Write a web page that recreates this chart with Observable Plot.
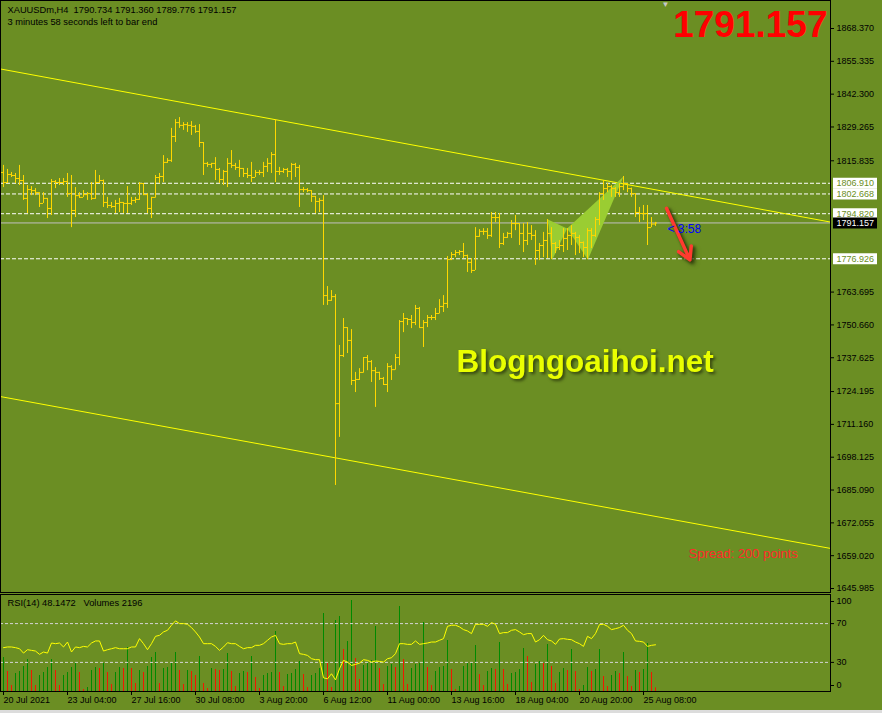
<!DOCTYPE html>
<html><head><meta charset="utf-8">
<script src="https://cdn.jsdelivr.net/npm/d3@7"></script>
<script src="https://cdn.jsdelivr.net/npm/@observablehq/plot@0.6"></script>
<style>
html,body{margin:0;padding:0;background:#6b8e23;}
#wrap{position:relative;width:882px;height:713px;background:#6b8e23;overflow:hidden;}
#wrap svg{position:absolute;left:0;overflow:visible;}
#strip{position:absolute;left:0;top:710px;width:882px;height:3px;background:#dcdcdc;}
</style></head><body><div id="wrap"><div id="strip"></div></div>
<script>
// ---- OHLC (H4 bars, index 0 = 20 Jul 2021 12:00) ----
const open = [
1811.2,1807.2,1810.4,1810.0,1808.8,1808.0,1800.9,1804.4,1804.0,1803.2,
1798.9,1800.9,1796.9,1807.6,1807.2,1807.2,1807.6,1802.8,1796.1,1802.0,
1801.3,1802.4,1802.8,1800.9,1807.2,1808.0,1799.3,1798.1,1797.7,1798.9,
1799.3,1798.9,1798.9,1800.1,1800.5,1806.8,1802.4,1796.9,1801.3,1809.2,
1809.6,1815.2,1816.0,1825.5,1831.0,1829.9,1830.2,1829.9,1829.5,1827.5,
1823.1,1814.8,1814.4,1814.8,1812.4,1808.4,1811.6,1814.8,1814.0,1813.2,
1812.8,1810.8,1810.0,1809.2,1811.2,1811.2,1813.6,1814.8,1818.3,1811.6,
1811.6,1812.4,1811.6,1814.4,1813.2,1804.4,1804.4,1804.0,1801.7,1799.7,
1800.1,1762.3,1760.4,1761.9,1719.4,1738.5,1749.6,1744.5,1728.6,1729.0,
1731.8,1737.7,1736.1,1732.5,1731.8,1729.4,1727.0,1734.1,1732.9,1737.7,
1752.0,1753.2,1752.8,1751.6,1757.2,1749.6,1751.6,1753.6,1753.6,1755.2,
1758.0,1759.2,1776.6,1778.6,1779.4,1779.8,1778.2,1775.5,1772.3,1785.8,
1787.8,1787.8,1786.2,1793.3,1793.3,1783.0,1785.4,1787.0,1790.9,1790.9,
1787.0,1784.2,1787.0,1786.2,1780.2,1782.2,1784.2,1787.0,1783.0,1781.4,
1782.2,1785.0,1786.2,1787.0,1785.4,1783.4,1781.4,1788.1,1786.2,1792.5,
1802.8,1804.8,1805.6,1804.8,1803.2,1805.6,1806.8,1804.8,1802.8,1795.3,
1794.9,1794.9,1789.3,1790.734];
const high = [
1814.0,1812.4,1811.2,1810.8,1814.0,1810.0,1806.0,1805.6,1804.8,1803.2,
1803.2,1800.9,1808.4,1808.0,1808.8,1808.8,1810.8,1810.0,1805.2,1803.2,
1804.0,1803.2,1807.2,1812.0,1810.0,1808.2,1801.3,1799.3,1800.1,1800.9,
1799.3,1805.6,1801.3,1801.3,1807.2,1806.8,1802.8,1801.3,1810.0,1810.8,
1817.9,1816.7,1828.7,1832.2,1833.0,1831.0,1831.0,1831.4,1829.9,1830.2,
1823.1,1815.2,1814.8,1817.1,1812.8,1812.0,1816.7,1819.9,1814.8,1816.0,
1812.8,1812.8,1815.2,1812.0,1812.0,1815.2,1816.7,1819.1,1832.2,1813.2,
1812.8,1812.8,1814.8,1814.8,1814.0,1805.2,1804.8,1804.0,1801.7,1800.9,
1802.0,1765.9,1764.3,1762.7,1742.5,1753.2,1749.6,1748.8,1731.8,1733.3,
1737.7,1738.5,1736.5,1733.7,1731.9,1729.8,1735.3,1734.5,1738.9,1752.4,
1755.2,1753.2,1754.4,1758.4,1757.6,1752.4,1754.4,1754.4,1757.2,1760.7,
1762.3,1777.8,1779.4,1780.2,1780.2,1783.0,1778.4,1777.0,1789.3,1788.5,
1788.9,1788.9,1795.3,1795.3,1794.9,1787.0,1787.4,1792.1,1794.1,1790.9,
1790.9,1791.3,1790.1,1788.1,1783.0,1787.4,1792.5,1789.3,1783.4,1784.2,
1788.9,1788.9,1790.1,1787.4,1786.2,1783.6,1788.9,1788.9,1793.3,1803.2,
1808.0,1806.8,1806.0,1805.2,1806.8,1809.6,1806.8,1805.0,1802.8,1797.3,
1798.1,1798.1,1793.3,1791.36];
const low = [
1805.2,1806.8,1809.2,1806.8,1806.0,1800.1,1794.9,1802.0,1802.0,1797.3,
1798.9,1792.9,1794.1,1804.8,1806.0,1806.0,1801.3,1789.3,1793.3,1800.9,
1801.3,1800.1,1800.1,1800.5,1806.8,1797.3,1796.9,1796.9,1794.9,1795.3,
1794.9,1794.9,1798.1,1798.9,1800.1,1802.0,1794.9,1792.9,1801.0,1806.8,
1807.2,1814.8,1815.2,1823.1,1828.7,1827.9,1827.1,1825.9,1826.7,1821.1,
1810.0,1813.2,1812.8,1808.0,1806.8,1806.0,1805.2,1812.8,1812.0,1809.2,
1809.2,1808.8,1807.2,1809.2,1810.0,1809.2,1811.2,1810.8,1807.2,1810.0,
1810.8,1809.2,1808.0,1809.2,1797.3,1803.2,1803.2,1799.3,1794.9,1795.3,
1758.4,1758.4,1760.0,1686.9,1706.0,1737.7,1739.3,1726.6,1723.8,1728.6,
1731.5,1732.5,1727.8,1717.9,1728.6,1726.6,1723.8,1728.6,1732.7,1734.5,
1747.6,1750.4,1749.2,1750.4,1749.6,1741.7,1749.6,1752.4,1752.4,1755.0,
1755.6,1757.2,1776.2,1777.4,1778.2,1777.0,1771.5,1771.1,1772.3,1785.4,
1786.2,1784.6,1785.4,1791.3,1781.0,1782.2,1785.0,1785.0,1788.1,1782.2,
1779.4,1782.2,1784.2,1774.3,1776.2,1777.4,1777.0,1776.6,1779.0,1780.2,
1779.4,1780.2,1782.2,1778.2,1779.0,1777.4,1776.6,1781.0,1785.4,1790.1,
1800.1,1803.2,1801.3,1801.3,1801.3,1804.0,1803.2,1801.3,1793.3,1791.3,
1792.1,1782.2,1789.3,1789.776];
const close = [
1807.2,1810.4,1810.0,1808.8,1808.0,1800.9,1804.4,1804.0,1803.2,1798.9,
1800.9,1796.9,1807.6,1807.2,1807.2,1807.6,1802.8,1796.1,1802.0,1801.3,
1802.4,1802.8,1800.9,1807.2,1808.0,1799.3,1798.1,1797.7,1798.9,1799.3,
1798.9,1798.9,1800.1,1800.5,1806.8,1802.4,1796.9,1801.3,1809.2,1809.6,
1815.2,1816.0,1825.5,1831.0,1829.9,1830.2,1829.9,1829.5,1827.5,1823.1,
1814.8,1814.4,1814.8,1812.4,1808.4,1811.6,1814.8,1814.0,1813.2,1812.8,
1810.8,1810.0,1809.2,1811.2,1811.2,1813.6,1814.8,1818.3,1811.6,1811.6,
1812.4,1811.6,1814.4,1813.2,1804.4,1804.4,1804.0,1801.7,1799.7,1800.1,
1762.3,1760.4,1761.9,1719.4,1738.5,1749.6,1744.5,1728.6,1729.0,1731.8,
1737.7,1736.1,1732.5,1731.8,1729.4,1727.0,1734.1,1732.9,1737.7,1752.0,
1753.2,1752.8,1751.6,1757.2,1749.6,1751.6,1753.6,1753.6,1755.2,1758.0,
1759.2,1776.6,1778.6,1779.4,1779.8,1778.2,1775.5,1772.3,1785.8,1787.8,
1787.8,1786.2,1793.3,1793.3,1783.0,1785.4,1787.0,1790.9,1790.9,1787.0,
1784.2,1787.0,1786.2,1780.2,1782.2,1784.2,1787.0,1783.0,1781.4,1782.2,
1785.0,1786.2,1787.0,1785.4,1783.4,1781.4,1788.1,1786.2,1792.5,1802.8,
1804.8,1805.6,1804.8,1803.2,1805.6,1806.8,1804.8,1802.8,1795.3,1794.9,
1794.9,1789.3,1790.7,1791.157];

// ---- RSI(14) ----
const rsi = [
45.2,45.9,45.9,45.2,44.1,39.6,43.1,42.4,41.7,38.3,
40.7,39.6,50.0,49.3,50.0,45.9,51.0,40.7,45.9,45.2,
46.5,45.9,50.0,52.1,52.1,41.7,43.1,44.1,45.2,44.1,
44.1,44.1,45.9,45.9,54.5,49.3,43.1,49.3,56.9,57.9,
61.4,63.1,68.3,72.8,70.0,70.0,69.3,65.9,61.4,56.2,
49.3,49.3,49.3,46.5,42.4,45.9,50.3,49.3,49.3,46.5,
44.1,45.2,45.2,47.6,47.6,49.3,52.8,56.2,57.9,49.3,
48.6,49.3,49.3,51.0,39.0,38.3,37.2,33.8,32.8,32.8,
14.1,13.1,18.3,12.0,23.4,32.1,30.3,26.9,27.9,29.3,
32.8,32.1,30.3,31.4,31.0,30.3,33.8,34.8,39.0,49.3,
49.3,48.6,48.6,52.1,48.6,49.3,50.0,51.0,51.0,52.8,
54.5,67.2,68.3,68.3,66.6,63.8,62.4,59.7,69.3,69.3,
69.3,67.2,71.0,69.3,59.7,60.7,60.7,63.1,63.8,61.4,
58.6,59.7,59.7,51.0,53.4,57.9,53.4,52.1,48.6,54.1,
54.5,53.8,53.4,51.0,49.3,46.5,56.9,54.5,59.7,69.0,
69.3,67.2,63.8,64.8,65.9,68.3,63.1,59.7,52.1,51.7,
51.0,46.5,47.6,48.1472];

// ---- Tick volumes ----
const volume = [
20400,12000,3600,10800,12000,15000,19200,12600,3600,9600,
11400,14400,19200,12600,3600,9600,11400,14400,17400,11400,
1200,2400,12600,14400,13800,16800,11400,4200,11400,14400,
13800,26400,13800,4800,12600,11400,15000,20400,23400,4800,
13800,14400,16800,23400,12600,4200,12600,12000,9600,21000,
4800,1800,13800,13200,12600,13200,22800,12000,3000,10800,
12000,11400,21000,8400,1800,9600,10800,11400,36000,11400,
3000,10200,10800,13200,18000,10200,2400,9600,10800,13800,
46800,17400,2400,42600,45000,25200,30000,54600,19800,7200,
15600,17400,18600,39000,13800,4200,15000,16200,14400,51000,
19200,4200,13800,16200,16800,41400,14400,3600,12000,14400,
15000,30600,13200,1200,3000,15000,16800,17400,27600,10200,
3600,12000,13800,13200,29400,13200,4200,10800,11400,13200,
25800,21000,5400,16200,18000,16800,28200,15000,4800,11400,
13800,12600,25200,12000,1200,3600,14400,12000,13200,25200,
9000,3000,9600,12000,10800,23400,9000,3000,12600,11400,
13200,28800,11400,2196];

// ---- Axis ticks / labels ----
const priceTicks = [1868.370,1855.335,1842.300,1829.265,1815.835,1763.695,1750.660,1737.625,1724.195,1711.160,1698.125,1685.090,1672.055,1659.020,1645.985];
const dateTickBars = [0,16,32,48,64,80,96,112,128,144,160];
const dateLabels = ["20 Jul 2021","23 Jul 04:00","27 Jul 16:00","30 Jul 08:00","3 Aug 20:00","6 Aug 12:00","11 Aug 00:00","13 Aug 16:00","18 Aug 04:00","20 Aug 20:00","25 Aug 08:00"];

// ---- Drawn objects ----
const levelLines = [1806.910, 1802.668, 1794.820, 1776.926];
const bidPrice = 1791.157;
const trendLines = [
  {x1:-0.75, y1:1852.3, x2:206.75, y2:1791.5},
  {x1:-0.75, y1:1722.2, x2:206.75, y2:1661.9}
];
const patternXAB = [{i:136.1,p:1792.5},{i:137.2,p:1776.6},{i:140.9,p:1788.9}];
const patternBCD = [{i:140.9,p:1788.9},{i:146.1,p:1776.6},{i:155.0,p:1809.6}];
const arrowSeg = [{x1:165.75, y1:1797.0, x2:171.6, y2:1776.5}];
const timerLabel = {i:166, p:1788.5, text:"< 3:58"};
const headerLine1 = "XAUUSDm,H4\u00a0\u00a01790.734 1791.360 1789.776 1791.157";
const headerLine2 = "3 minutes 58 seconds left to bar end";
const watermark = "Blogngoaihoi.net";
const rsiPeriod = 14;
const spreadPoints = 200;

const bars = high.map((h, i) => ({i, open: open[i], high: h, low: low[i], close: close[i]}));
const rsiData = rsi.map((r, i) => ({i, r}));
const volData = volume.map((v, i) => ({i, v, col: (i === 0 || v > volume[i-1]) ? "#008a00" : "#f01800"}));

const FONT = "'Liberation Sans', Arial, sans-serif";
const xDom = [-0.75, 206.75];
const wrap = document.getElementById("wrap");
const BAR = "#ffd700";

const main = Plot.plot({
  width: 882, height: 593,
  marginLeft: 0, marginRight: 52, marginTop: 0, marginBottom: 1,
  x: {domain: xDom, axis: null},
  y: {domain: [1644.40, 1879.49], axis: null},
  style: {background: "transparent", fontFamily: FONT, fontSize: "9px", color: "black", overflow: "visible"},
  marks: [
    Plot.ruleY(levelLines, {y: d => d, stroke: "white", strokeDasharray: "4,2"}),
    Plot.ruleY([bidPrice], {y: d => d, stroke: "#c0c0c0"}),
    Plot.link(trendLines, {x1: "x1", y1: "y1", x2: "x2", y2: "y2", stroke: "#ffff00", strokeWidth: 1}),
    Plot.line(patternXAB, {x: "i", y: "p", fill: "#9acd32", stroke: "none"}),
    Plot.line(patternBCD, {x: "i", y: "p", fill: "#9acd32", stroke: "none"}),
    Plot.ruleX(bars, {x: "i", y1: "low", y2: "high", stroke: BAR}),
    Plot.ruleY(bars, {y: "open", x1: d => d.i - 0.5, x2: "i", stroke: BAR}),
    Plot.ruleY(bars, {y: "close", x1: "i", x2: d => d.i + 0.5, stroke: BAR}),
    Plot.arrow(arrowSeg, {x1: "x1", y1: "y1", x2: "x2", y2: "y2", stroke: "#ff3b2f", strokeWidth: 3.5, headLength: 6}),
    Plot.text([timerLabel], {x: "i", y: "p", text: "text", textAnchor: "start", fill: "#0000ff", fontSize: 12, fontFamily: FONT}),
    Plot.text([watermark], {text: d => d, frameAnchor: "top-left", dx: 456, dy: 361, textAnchor: "start", lineAnchor: "middle", fontSize: 31.5, fontWeight: "bold", fill: "#eaff00", fontFamily: FONT}),
    Plot.text([bidPrice], {text: d => d.toFixed(3), frameAnchor: "top-right", dx: -3, dy: 25, textAnchor: "end", lineAnchor: "middle", fontSize: 37, fontWeight: "bold", fill: "#ff0000", fontFamily: FONT}),
    Plot.text([spreadPoints], {text: d => `Spread: ${d} points`, frameAnchor: "top-left", dx: 688, dy: 553, textAnchor: "start", lineAnchor: "middle", fontSize: 13, fill: "#ff2a2a", fontFamily: FONT}),
    Plot.text([headerLine1], {text: d => d, frameAnchor: "top-left", dx: 7, dy: 10, textAnchor: "start", lineAnchor: "middle", fontSize: 9.3, fill: "black", fontFamily: FONT}),
    Plot.text([headerLine2], {text: d => d, frameAnchor: "top-left", dx: 7, dy: 22, textAnchor: "start", lineAnchor: "middle", fontSize: 9.3, fill: "black", fontFamily: FONT}),
    Plot.text(["\u25BC"], {text: d => d, frameAnchor: "top-left", dx: 661, dy: 4, lineAnchor: "middle", fontSize: 8, fill: "#c8c8c8"}),
    Plot.axisY(priceTicks, {anchor: "right", label: null, tickSize: 3, tickPadding: 3, tickFormat: d => d.toFixed(3), fontSize: 9}),
    Plot.ruleY(levelLines, {y: d => d, stroke: "white", strokeWidth: 11, insetLeft: 833, insetRight: -47}),
    Plot.ruleY([bidPrice], {y: d => d, stroke: "black", strokeWidth: 11, insetLeft: 833, insetRight: -47}),
    Plot.text(levelLines, {y: d => d, text: d => d.toFixed(3), frameAnchor: "right", textAnchor: "start", dx: 6, fill: "#6b8e23", fontSize: 9}),
    Plot.text([bidPrice], {y: d => d, text: d => d.toFixed(3), frameAnchor: "right", textAnchor: "start", dx: 6, fill: "white", fontSize: 9}),
    Plot.frame({stroke: "black"})
  ]
});
main.style.top = "0px";
// soft drop shadows as in the terminal (watermark and arrow)
d3.select(main).selectAll("text").filter(function() { return this.textContent === watermark; })
  .style("filter", "drop-shadow(2px 2px 1.5px rgba(35,45,8,0.75))");
d3.select(main).selectAll("[aria-label='arrow'] path, [aria-label='arrow']")
  .style("filter", "drop-shadow(2px 2px 1.5px rgba(35,45,8,0.6))");
wrap.appendChild(main);

const volPlot = Plot.plot({
  width: 882, height: 120,
  marginLeft: 0, marginRight: 52, marginTop: 1, marginBottom: 22,
  x: {domain: xDom, axis: null},
  y: {domain: [0, 58200], axis: null},
  color: {type: "identity"},
  style: {background: "transparent", overflow: "visible"},
  marks: [
    Plot.ruleX(volData, {x: "i", y1: 0, y2: "v", stroke: "col"})
  ]
});
volPlot.style.top = "593px";
wrap.appendChild(volPlot);

const rsiPlot = Plot.plot({
  width: 882, height: 120,
  marginLeft: 0, marginRight: 52, marginTop: 1, marginBottom: 22,
  x: {domain: xDom, axis: null},
  y: {domain: [0, 100], axis: null},
  style: {background: "transparent", fontFamily: FONT, fontSize: "9px", color: "black", overflow: "visible"},
  marks: [
    Plot.ruleY([30, 70], {y: d => d, stroke: "#d4d4d4", strokeDasharray: "3,2"}),
    Plot.line(rsiData, {x: "i", y: "r", stroke: "#ffff00", strokeWidth: 1}),
    Plot.axisY([30, 70], {anchor: "right", label: null, tickSize: 3, tickPadding: 3, fontSize: 9}),
    Plot.axisY([100], {anchor: "right", label: null, tickSize: 3, tickPadding: 3, fontSize: 9, dy: 7}),
    Plot.axisY([0], {anchor: "right", label: null, tickSize: 3, tickPadding: 3, fontSize: 9, dy: -6}),
    Plot.axisX(dateTickBars, {anchor: "bottom", label: null, tickSize: 4, tickPadding: 1, textAnchor: "start", tickFormat: d => dateLabels[dateTickBars.indexOf(d)], fontSize: 9}),
    Plot.text([`RSI(${rsiPeriod}) ${rsi[rsi.length-1].toFixed(4)}`], {text: d => d, frameAnchor: "top-left", dx: 7, dy: 9, textAnchor: "start", lineAnchor: "middle", fontSize: 9.3, fill: "black"}),
    Plot.text([`Volumes ${volume[volume.length-1]}`], {text: d => d, frameAnchor: "top-left", dx: 83, dy: 9, textAnchor: "start", lineAnchor: "middle", fontSize: 9.3, fill: "black"}),
    Plot.frame({stroke: "black"})
  ]
});
rsiPlot.style.top = "593px";
wrap.appendChild(rsiPlot);
</script>
</body></html>
